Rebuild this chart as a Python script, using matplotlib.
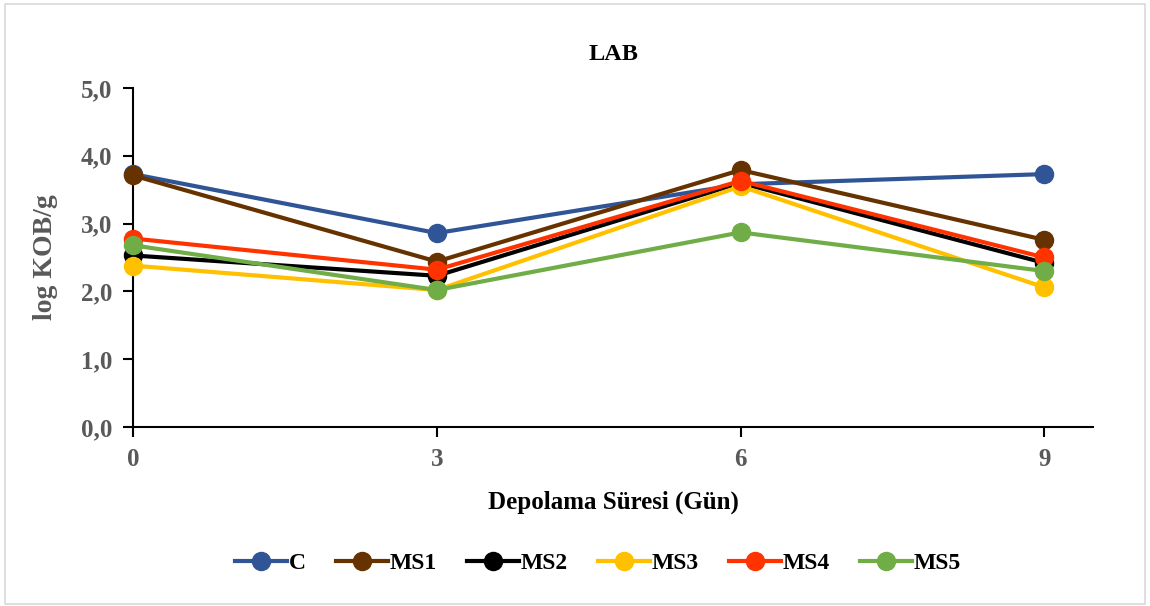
import matplotlib
matplotlib.use("Agg")
import matplotlib.pyplot as plt
from matplotlib.ticker import FuncFormatter
from matplotlib.patches import Rectangle

days = [0, 3, 6, 9]
series_names = ["C", "MS1", "MS2", "MS3", "MS4", "MS5"]
C = [3.73, 2.86, 3.58, 3.73]
MS1 = [3.71, 2.44, 3.79, 2.76]
MS2 = [2.53, 2.23, 3.60, 2.42]
MS3 = [2.38, 2.02, 3.55, 2.06]
MS4 = [2.78, 2.32, 3.63, 2.50]
MS5 = [2.68, 2.02, 2.87, 2.30]
values = [C, MS1, MS2, MS3, MS4, MS5]
colors = ["#2F5597", "#663300", "#000000", "#FFC000", "#FF3300", "#70AD47"]

plt.rcParams['font.family'] = ['Liberation Serif', 'DejaVu Serif']
plt.rcParams['font.weight'] = 'bold'

fig = plt.figure(figsize=(11.5, 6.06), dpi=100)
fig.patches.append(Rectangle((0.004, 0.004), 0.992, 0.99, transform=fig.transFigure,
                             fill=False, edgecolor="#D9D9D9", linewidth=1.2))
ax = fig.add_axes([0.1157, 0.2954, 0.8347, 0.5594])

for name, vals, col in zip(series_names, values, colors):
    ax.plot(days, vals, color=col, linewidth=3.0, marker='o', markersize=13,
            label=name, zorder=3, clip_on=False)

ax.set_xlim(0, 9.48)
ax.set_ylim(0, 5)
ax.set_xticks(days)
ax.set_yticks([0, 1, 2, 3, 4, 5])
ax.yaxis.set_major_formatter(FuncFormatter(lambda v, p: f"{v:.1f}".replace(".", ",")))
for s in ["top", "right"]:
    ax.spines[s].set_visible(False)
for s in ["left", "bottom"]:
    ax.spines[s].set_linewidth(1.5)
    ax.spines[s].set_color("black")
ax.tick_params(axis='both', direction='out', length=7, width=1.5, colors='black',
               labelcolor='#595959', labelsize=18, pad=8)
for lab in ax.get_xticklabels() + ax.get_yticklabels():
    lab.set_fontweight('bold')

ax.set_title("LAB", fontsize=17.5, fontweight='bold', color='black', pad=20)
ax.set_xlabel("Depolama Süresi (Gün)", fontsize=18, fontweight='bold', color='black', labelpad=14)
ax.set_ylabel("log KOB/g", fontsize=20, fontweight='bold', color='#595959', labelpad=16)

leg = fig.legend(loc='center', bbox_to_anchor=(0.52, 0.07), ncol=6, frameon=False,
                 handlelength=2.2, columnspacing=1.3, handletextpad=0.05,
                 prop={'weight': 'bold', 'size': 17})

fig.savefig("out.png", dpi=100)
